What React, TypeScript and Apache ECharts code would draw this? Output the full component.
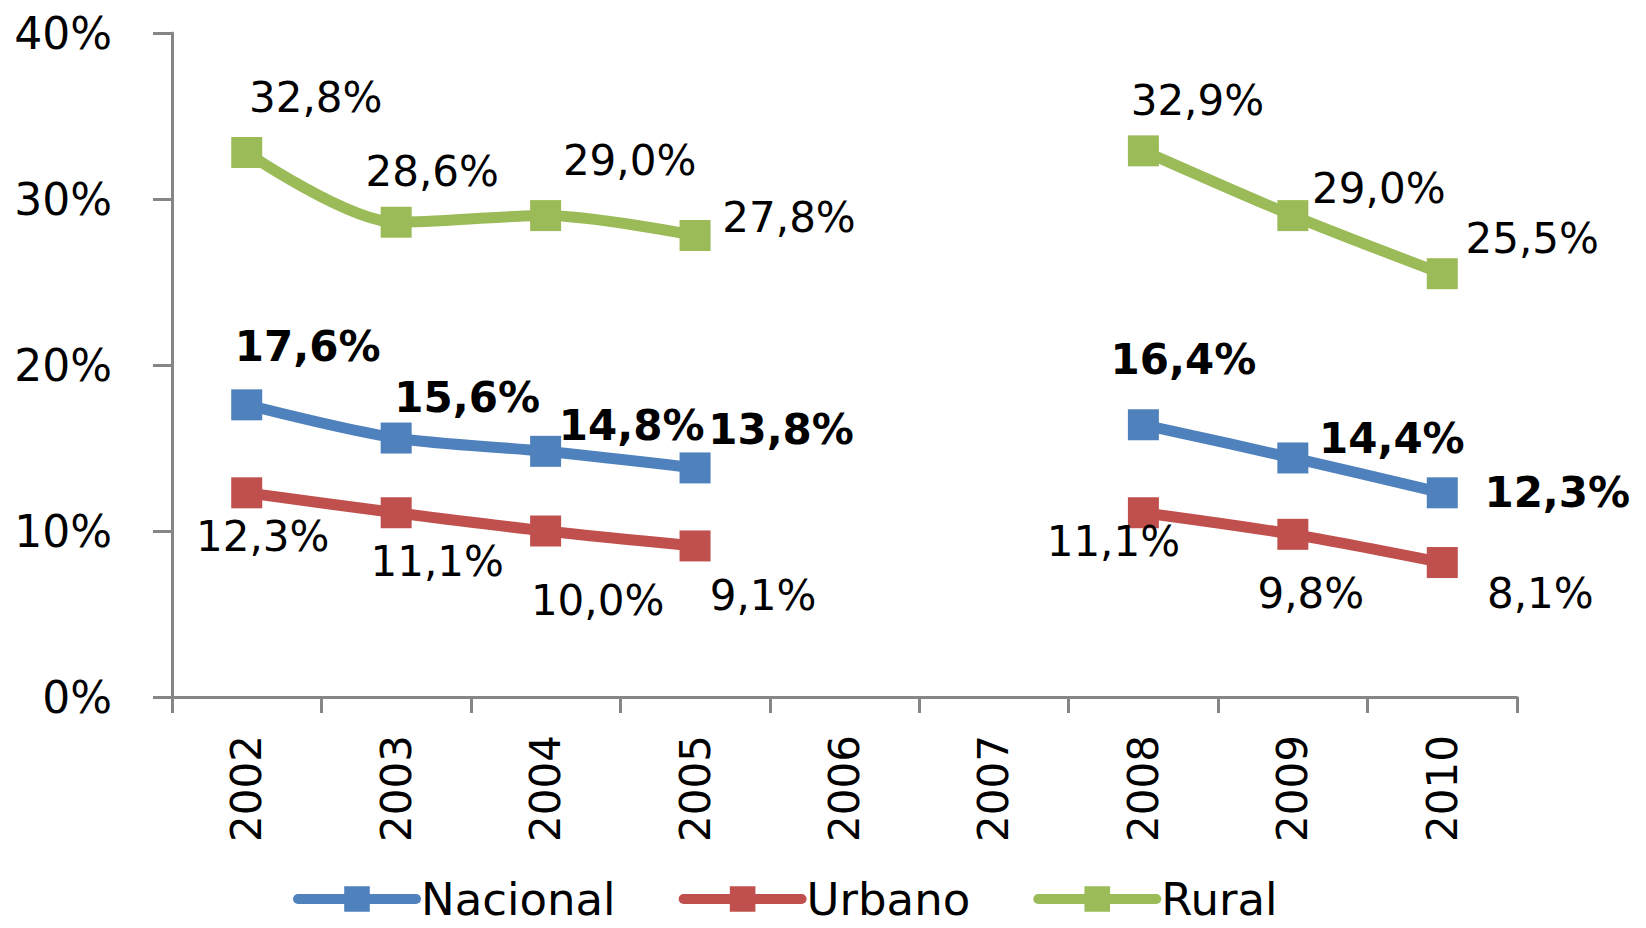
import React, { useEffect, useRef } from "react";
import * as echarts from "echarts";

const years = ["2002", "2003", "2004", "2005", "2006", "2007", "2008", "2009", "2010"];
const nacional = [17.6, 15.6, 14.8, 13.8, null, null, 16.4, 14.4, 12.3];
const urbano = [12.3, 11.1, 10.0, 9.1, null, null, 11.1, 9.8, 8.1];
const rural = [32.8, 28.6, 29.0, 27.8, null, null, 32.9, 29.0, 25.5];

// label offsets (layout only)
const nacOffsets = [[61, -58], [71, -41], [86, -26], [86, -38], [0, 0], [0, 0], [40, -65], [99, -19], [115, 0]];
const urbOffsets = [[16, 44], [41, 49], [52, 69], [68, 50], [0, 0], [0, 0], [-30, 29], [18, 59], [98, 31]];
const rurOffsets = [[69, -55], [36, -51], [84, -55], [94, -18], [0, 0], [0, 0], [54, -50], [86, -27], [90, -35]];

const FONT = "DejaVu Sans";

function fmt(v: number) {
  return v.toFixed(1).replace(".", ",") + "%";
}

function buildData(values: (number | null)[], offsets: number[][]) {
  return values.map((v, i) =>
    v === null ? "-" : { value: v, label: { offset: offsets[i] } }
  );
}

function makeSeries(name: string, color: string, values: (number | null)[], offsets: number[][], bold: boolean) {
  return {
    name,
    type: "line",
    data: buildData(values, offsets),
    smooth: 0.3,
    connectNulls: false,
    symbol: "rect",
    symbolSize: 31,
    itemStyle: { color },
    lineStyle: { color, width: 11, cap: "round", join: "round" },
    label: {
      show: true,
      position: "inside",
      formatter: (p: any) => fmt(p.value),
      color: "#000",
      fontFamily: FONT,
      fontSize: 42,
      fontWeight: bold ? "bold" : "normal",
    },
  };
}

export default function App() {
  const ref = useRef<HTMLDivElement>(null);
  useEffect(() => {
    document.body.style.margin = "0";
    const chart = echarts.init(ref.current!, null, { renderer: "svg" });
    chart.setOption({
      animation: false,
      backgroundColor: "#fff",
      textStyle: { fontFamily: FONT },
      grid: { left: 172, right: 129, top: 33, bottom: 231, containLabel: false },
      legend: {
        top: 876,
        left: 293,
        padding: 0,
        itemWidth: 118,
        itemHeight: 32,
        itemGap: 63,
        lineStyle: { width: 10, cap: "round" },
        textStyle: { fontFamily: FONT, fontSize: 45, color: "#000", lineHeight: 46 },
        data: ["Nacional", "Urbano", "Rural"],
      },
      xAxis: {
        type: "category",
        data: years,
        boundaryGap: true,
        axisLine: { lineStyle: { color: "#868686", width: 3 } },
        axisTick: { show: true, length: 16, lineStyle: { color: "#868686", width: 3 } },
        axisLabel: { rotate: 90, margin: 38, fontSize: 42, color: "#000", fontFamily: FONT },
        splitLine: { show: false },
      },
      yAxis: {
        type: "value",
        min: 0,
        max: 40,
        interval: 10,
        axisLine: { show: true, lineStyle: { color: "#868686", width: 3 } },
        axisTick: { show: true, length: 19, lineStyle: { color: "#868686", width: 3 } },
        axisLabel: { formatter: "{value}%", margin: 60, fontSize: 44, color: "#000", fontFamily: FONT },
        splitLine: { show: false },
      },
      series: [
        makeSeries("Nacional", "#4F81BD", nacional, nacOffsets, true),
        makeSeries("Urbano", "#C0504D", urbano, urbOffsets, false),
        makeSeries("Rural", "#9BBB59", rural, rurOffsets, false),
      ],
    });
    return () => chart.dispose();
  }, []);
  return <div ref={ref} style={{ width: 1646, height: 928 }} />;
}
